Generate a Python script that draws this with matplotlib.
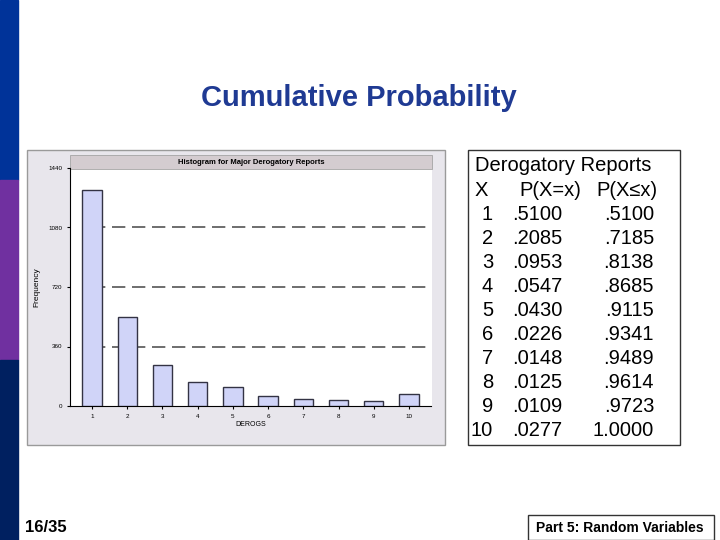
import matplotlib.pyplot as plt
from matplotlib.patches import Rectangle

plt.rcParams["font.family"] = ["Liberation Sans", "DejaVu Sans"]

derogs = [1, 2, 3, 4, 5, 6, 7, 8, 9, 10]
freq = [1305, 536, 246, 143, 115, 60, 40, 34, 30, 71]
p_eq = [".5100", ".2085", ".0953", ".0547", ".0430", ".0226", ".0148", ".0125", ".0109", ".0277"]
p_le = [".5100", ".7185", ".8138", ".8685", ".9115", ".9341", ".9489", ".9614", ".9723", "1.0000"]
yticks = [0, 360, 720, 1080, 1440]

W, H = 720, 540
fig = plt.figure(figsize=(7.2, 5.4), dpi=100)


def fx(x):
    return x / W


def fy(y):
    return 1 - y / H


# left colour band
for y0, y1, c in [(0, 180, "#003399"), (180, 360, "#7030a0"), (360, 540, "#002060")]:
    fig.patches.append(Rectangle((0, fy(y1)), fx(18), (y1 - y0) / H,
                                 transform=fig.transFigure, color=c, zorder=0))

fig.text(fx(359), fy(98), "Cumulative Probability", ha="center", va="center",
         fontsize=21, fontweight="bold", color="#1f3a93")

# chart panel
fig.patches.append(Rectangle((fx(27), fy(445)), fx(418), 295 / H, transform=fig.transFigure,
                             facecolor="#e8e6ec", edgecolor="#9a9a9a", lw=1, zorder=-2))
fig.patches.append(Rectangle((fx(70), fy(169)), fx(362), 14 / H, transform=fig.transFigure,
                             facecolor="#d4ccd0", edgecolor="#999999", lw=0.5, zorder=1))
fig.patches.append(Rectangle((fx(70), fy(406)), fx(362), 237 / H, transform=fig.transFigure,
                             facecolor="white", edgecolor="none", zorder=-1))
fig.text(fx(251), fy(162), "Histogram for Major Derogatory Reports", ha="center", va="center",
         fontsize=5.5, fontweight="bold")

ax = fig.add_axes([fx(70), fy(406), fx(361), 238 / H])
ax.set_zorder(5)
ax.patch.set_alpha(0)
ax.bar(derogs, freq, width=0.55, color="#d0d4f8", edgecolor="#333344", lw=1, zorder=3)
for v in yticks[1:4]:
    ax.axhline(v, color="#555555", ls=(0, (8, 4)), lw=1.2, xmin=0.06, zorder=1)
ax.set_xlim(0.375, 10.625)
ax.set_ylim(0, 1440)
ax.set_xticks(derogs)
ax.set_yticks(yticks)
ax.tick_params(labelsize=4.5, length=2)
for s in ["top", "right"]:
    ax.spines[s].set_visible(False)
ax.set_xlabel("DEROGS", fontsize=5, labelpad=2)
ax.set_ylabel("Frequency", fontsize=6, labelpad=6)

# table
fig.patches.append(Rectangle((fx(468), fy(445)), fx(212), 295 / H, transform=fig.transFigure,
                             facecolor="none", edgecolor="#333333", lw=1))
fs = 14.5
fig.text(fx(475), fy(166), "Derogatory Reports", fontsize=fs, va="center")
fig.text(fx(475), fy(190), "X", fontsize=fs, va="center")
fig.text(fx(550), fy(190), "P(X=x)", fontsize=fs, va="center", ha="center")
fig.text(fx(627), fy(190), "P(X\u2264x)", fontsize=fs, va="center", ha="center")
for i, (d, a, b) in enumerate(zip(derogs, p_eq, p_le)):
    y = 214 + 24 * i
    fig.text(fx(493), fy(y), str(d), fontsize=fs, va="center", ha="right")
    fig.text(fx(512), fy(y), a, fontsize=fs, va="center")
    fig.text(fx(654), fy(y), b, fontsize=fs, va="center", ha="right")

fig.text(fx(25), fy(527), "16/35", fontsize=12, fontweight="bold", va="center")
fig.patches.append(Rectangle((fx(528), fy(540)), fx(186), 25 / H, transform=fig.transFigure,
                             facecolor="white", edgecolor="#333333", lw=1))
fig.text(fx(620), fy(528), "Part 5: Random Variables", fontsize=10, fontweight="bold",
         ha="center", va="center")

fig.savefig("out.png", dpi=100)
